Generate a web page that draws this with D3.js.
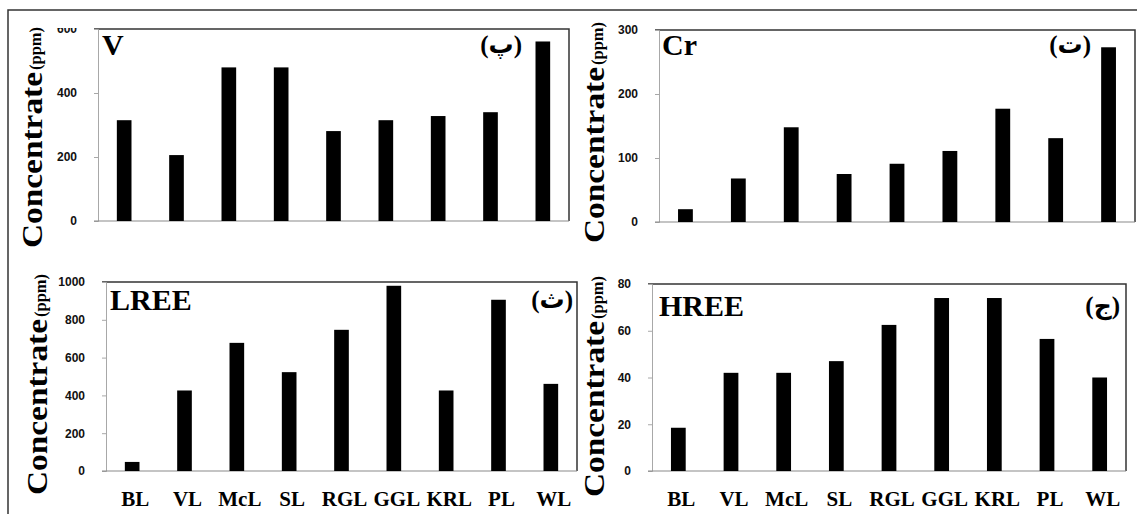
<!DOCTYPE html>
<html>
<head>
<meta charset="utf-8">
<script src="https://d3js.org/d3.v7.min.js"></script>
<style>
    body { margin: 0; background: #fff; }
    svg { display: block; }
</style>
</head>
<body>
<div id="chart"></div>
<script>

// sample sites (x axis)
const categories = ["BL", "VL", "McL", "SL", "RGL", "GGL", "KRL", "PL", "WL"];

// concentrations (ppm)
const vValues    = [315, 206, 480, 480, 281, 315, 328, 340, 561];
const crValues   = [20, 68, 148, 75, 91, 111, 177, 131, 273];
const lreeValues = [48, 426, 678, 523, 747, 980, 426, 906, 461];
const hreeValues = [18.5, 42, 42, 47, 62.5, 74, 74, 56.5, 40];

// y tick labels
const vTicks    = [0, 200, 400, 600];
const crTicks   = [0, 100, 200, 300];
const lreeTicks = [0, 200, 400, 600, 800, 1000];
const hreeTicks = [0, 20, 40, 60, 80];

const svg = d3.select("#chart").append("svg")
    .attr("width", 1137)
    .attr("height", 514);

// outer frame of the figure
svg.append("rect")
    .attr("x", 8).attr("y", 10)
    .attr("width", 1150).attr("height", 520)
    .attr("fill", "none")
    .attr("stroke", "#333")
    .attr("stroke-width", 1.5);


class PanelVis {

    constructor(box, values, ticks, opts) {
        this.box = box;
        this.values = values;
        this.ticks = ticks;
        this.opts = opts;

        this.initVis();
    }

    initVis() {
        let vis = this;
        let b = vis.box;

        vis.g = svg.append("g");

        vis.xScale = d3.scaleBand()
            .domain(categories)
            .range([b.left, b.right])
            .paddingInner(0.72)
            .paddingOuter(0.36);

        vis.yScale = d3.scaleLinear()
            .domain([0, vis.ticks[vis.ticks.length - 1]])
            .range([b.bottom, b.top]);

        // top + right frame
        vis.g.append("path")
            .attr("d", `M${b.left - 4},${b.top}H${b.right}V${b.bottom}`)
            .attr("fill", "none")
            .attr("stroke", "#333")
            .attr("stroke-width", 1.5);

        // y axis
        vis.yAxis = d3.axisLeft(vis.yScale)
            .tickValues(vis.ticks)
            .tickSize(4)
            .tickPadding(17)
            .tickFormat(d3.format("d"));

        let ya = vis.g.append("g")
            .attr("class", "yAxis")
            .attr("transform", `translate(${b.left}, 0)`)
            .call(vis.yAxis);
        ya.select(".domain").attr("stroke", "#a8a8a8");
        ya.selectAll(".tick line").attr("stroke", "#a8a8a8");
        ya.selectAll(".tick text")
            .style("font-family", "'Liberation Sans', Arial, sans-serif")
            .style("font-weight", "bold")
            .style("font-size", "12px")
            .attr("fill", "#111");

        if (vis.opts.clipTop) {
            // the top tick label is cut in the original
            let id = "clip" + vis.opts.title;
            svg.append("clipPath").attr("id", id)
                .append("rect")
                .attr("x", -b.left).attr("y", b.top - 1)
                .attr("width", b.left + 10).attr("height", 600);
            ya.attr("clip-path", `url(#${id})`);
        }

        // bottom axis line
        vis.g.append("line")
            .attr("x1", b.left - 4).attr("x2", b.right)
            .attr("y1", b.bottom).attr("y2", b.bottom)
            .attr("stroke", "#8a8a8a")
            .attr("stroke-width", 1.2);

        // bars
        vis.g.selectAll(".myrect")
            .data(vis.values)
            .enter()
            .append("rect")
            .attr("class", "myrect")
            .attr("x", (d, i) => vis.xScale(categories[i]))
            .attr("y", d => vis.yScale(d))
            .attr("width", vis.xScale.bandwidth())
            .attr("height", d => b.bottom - vis.yScale(d))
            .attr("fill", "#000");

        // category labels (bottom row only)
        if (vis.opts.xLabels) {
            vis.g.selectAll(".xlab")
                .data(categories)
                .enter()
                .append("text")
                .attr("class", "xlab")
                .attr("x", d => vis.xScale(d) + vis.xScale.bandwidth() / 2 + 3)
                .attr("y", b.bottom + 35)
                .attr("text-anchor", "middle")
                .style("font-family", "'Liberation Serif', 'Times New Roman', serif")
                .style("font-weight", "bold")
                .style("font-size", "21px")
                .text(d => d);
        }

        // element title
        vis.g.append("text")
            .attr("x", b.left + vis.opts.titleDx)
            .attr("y", b.top + vis.opts.titleDy)
            .style("font-family", "'Liberation Serif', 'Times New Roman', serif")
            .style("font-weight", "bold")
            .style("font-size", "30px")
            .text(vis.opts.title);

        // persian panel letter
        vis.g.append("text")
            .attr("x", vis.opts.letterX)
            .attr("y", b.top + vis.opts.titleDy - 2)
            .attr("text-anchor", "end")
            .style("font-family", "'Liberation Serif', 'DejaVu Sans', serif")
            .style("font-weight", "bold")
            .style("font-size", "25px")
            .text(vis.opts.letter);

        // y axis title, two parts
        let lx = vis.opts.labelX;
        vis.g.append("text")
            .attr("transform", `translate(${lx}, ${vis.opts.labelBottom}) rotate(-90)`)
            .attr("textLength", 176)
            .attr("lengthAdjust", "spacingAndGlyphs")
            .style("font-family", "'Liberation Serif', 'Times New Roman', serif")
            .style("font-weight", "bold")
            .style("font-size", "29px")
            .text("Concentrate");

        vis.g.append("text")
            .attr("transform", `translate(${lx - 1}, ${vis.opts.labelBottom - 178}) rotate(-90)`)
            .attr("textLength", 43)
            .attr("lengthAdjust", "spacingAndGlyphs")
            .style("font-family", "'Liberation Serif', 'Times New Roman', serif")
            .style("font-weight", "bold")
            .style("font-size", "17px")
            .text("(ppm)");
    }
}

new PanelVis({left: 98, right: 569, top: 29, bottom: 221}, vValues, vTicks,
    {title: "V", letter: "(پ)", letterX: 522, titleDx: 4, titleDy: 26,
        labelX: 42, labelBottom: 248, clipTop: true, xLabels: false});

new PanelVis({left: 659, right: 1135, top: 30, bottom: 222}, crValues, crTicks,
    {title: "Cr", letter: "(ت)", letterX: 1091, titleDx: 3, titleDy: 25,
        labelX: 604, labelBottom: 243, clipTop: false, xLabels: false});

new PanelVis({left: 106, right: 577, top: 282, bottom: 471}, lreeValues, lreeTicks,
    {title: "LREE", letter: "(ث)", letterX: 573, titleDx: 4, titleDy: 28,
        labelX: 47, labelBottom: 495, clipTop: false, xLabels: true});

new PanelVis({left: 652, right: 1126, top: 284, bottom: 471}, hreeValues, hreeTicks,
    {title: "HREE", letter: "(ج)", letterX: 1120, titleDx: 7, titleDy: 32,
        labelX: 604, labelBottom: 497, clipTop: false, xLabels: true});

</script>
</body>
</html>
